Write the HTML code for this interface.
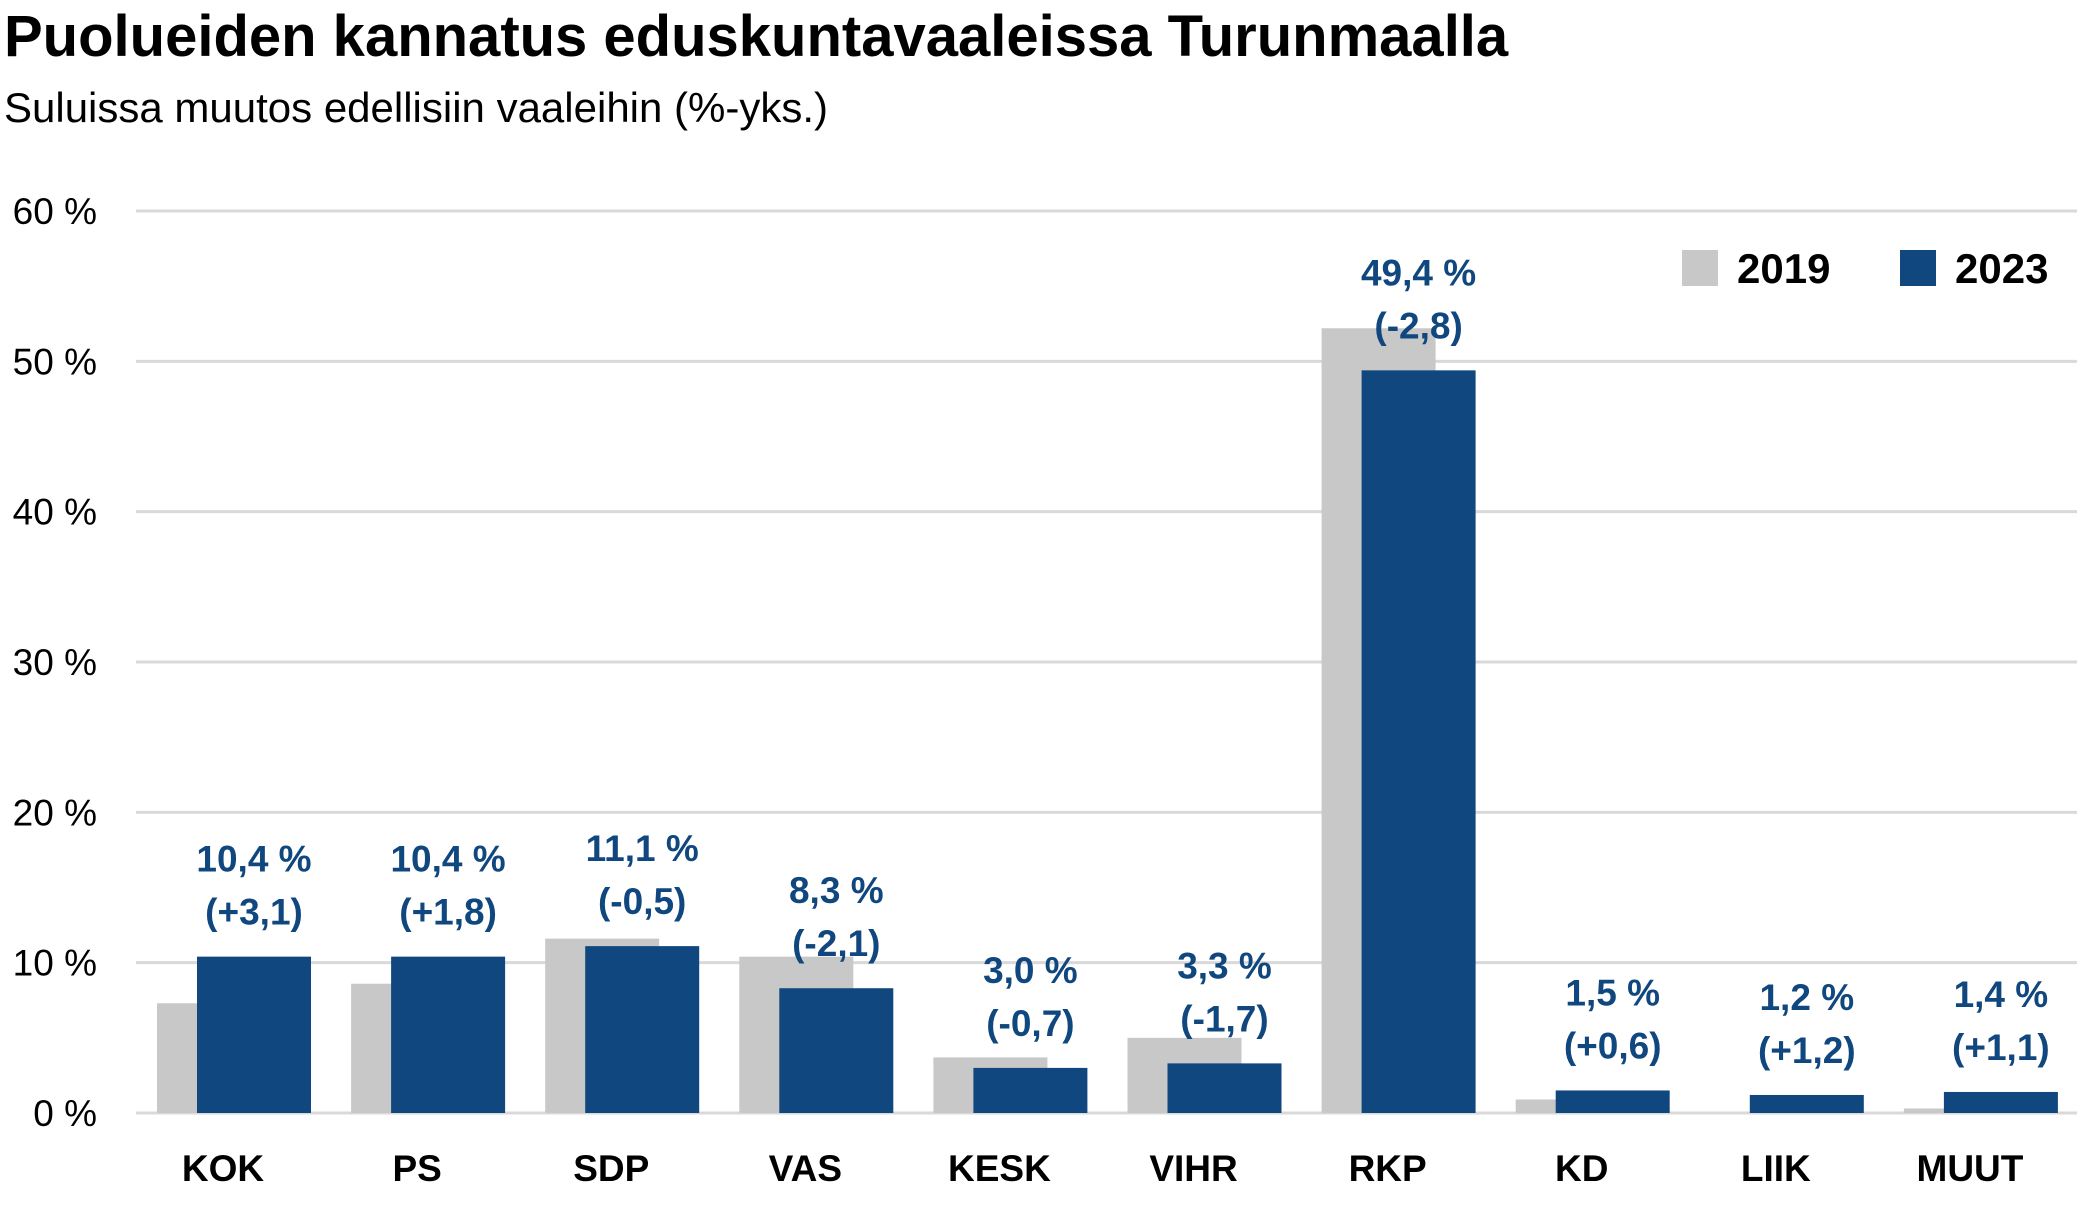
<!DOCTYPE html>
<html><head><meta charset="utf-8"><style>
html,body{margin:0;padding:0;background:#fff;}
svg{display:block;font-family:"Liberation Sans",Arial,sans-serif;}
</style></head><body>
<svg id="chart" width="2077" height="1217" viewBox="0 0 2077 1217" xmlns="http://www.w3.org/2000/svg">
<text x="4" y="56" font-size="58" font-weight="bold" fill="#000">Puolueiden kannatus eduskuntavaaleissa Turunmaalla</text>
<text x="4" y="122" font-size="42" fill="#000">Suluissa muutos edellisiin vaaleihin (%-yks.)</text>
<g id="grid"></g>
<g id="bars"></g>
<g>
<rect x="1682" y="250" width="36" height="36" fill="#c8c8c8"/>
<text x="1737" y="283" font-size="42" font-weight="bold">2019</text>
<rect x="1900" y="250" width="36" height="36" fill="#10477e"/>
<text x="1955" y="283" font-size="42" font-weight="bold">2023</text>
</g>
</svg>
<script>
const categories = ["KOK","PS","SDP","VAS","KESK","VIHR","RKP","KD","LIIK","MUUT"];
const values2019 = [7.3,8.6,11.6,10.4,3.7,5.0,52.2,0.9,0,0.3];
const values2023 = [10.4,10.4,11.1,8.3,3.0,3.3,49.4,1.5,1.2,1.4];
const changeLabels = ["(+3,1)","(+1,8)","(-0,5)","(-2,1)","(-0,7)","(-1,7)","(-2,8)","(+0,6)","(+1,2)","(+1,1)"];
const yTicks = [0,10,20,30,40,50,60];

const NS="http://www.w3.org/2000/svg";
const x0=136, x1=2077, yTop=211, yBot=1113, yMax=60;
const y = v => yBot - (v/yMax)*(yBot-yTop);
const gw = (x1-x0)/categories.length;
function mk(tag, attrs, parent, txt){
  const e=document.createElementNS(NS,tag);
  for(const k in attrs) e.setAttribute(k,attrs[k]);
  if(txt!==undefined) e.textContent=txt;
  parent.appendChild(e); return e;
}
const grid=document.getElementById('grid');
yTicks.forEach(t=>{
  const l=mk('line',{x1:x0,x2:x1,y1:y(t),y2:y(t),stroke:'#d9d9d9','stroke-width':3},grid);
  
  
  const tx=mk('text',{x:97,y:y(t)+13,'font-size':37,'text-anchor':'end',fill:'#000'},grid,t+' %');
  
  
});
const bars=document.getElementById('bars');
categories.forEach((c,i)=>{
  const gx=x0+i*gw;
  const r1=mk('rect',{x:gx+21,y:y(values2019[i]),width:114,height:yBot-y(values2019[i]),fill:'#c8c8c8'},bars);
  
  
  const r2=mk('rect',{x:gx+61,y:y(values2023[i]),width:114,height:yBot-y(values2023[i]),fill:'#10477e'},bars);
  
  
  const cx=gx+61+57, top=y(values2023[i]);
  const v1=mk('text',{x:cx,y:top-85,'font-size':37,'font-weight':'bold','text-anchor':'middle',fill:'#10477e'},bars,values2023[i].toFixed(1).replace('.',',')+' %');
  
  
  const v2=mk('text',{x:cx,y:top-32,'font-size':37,'font-weight':'bold','text-anchor':'middle',fill:'#10477e'},bars,changeLabels[i]);
  
  
  const cl=mk('text',{x:gx+gw/2-10,y:1181,'font-size':37,'font-weight':'bold','text-anchor':'middle',fill:'#000'},bars,c);
  
  
});
</script>
</body></html>
